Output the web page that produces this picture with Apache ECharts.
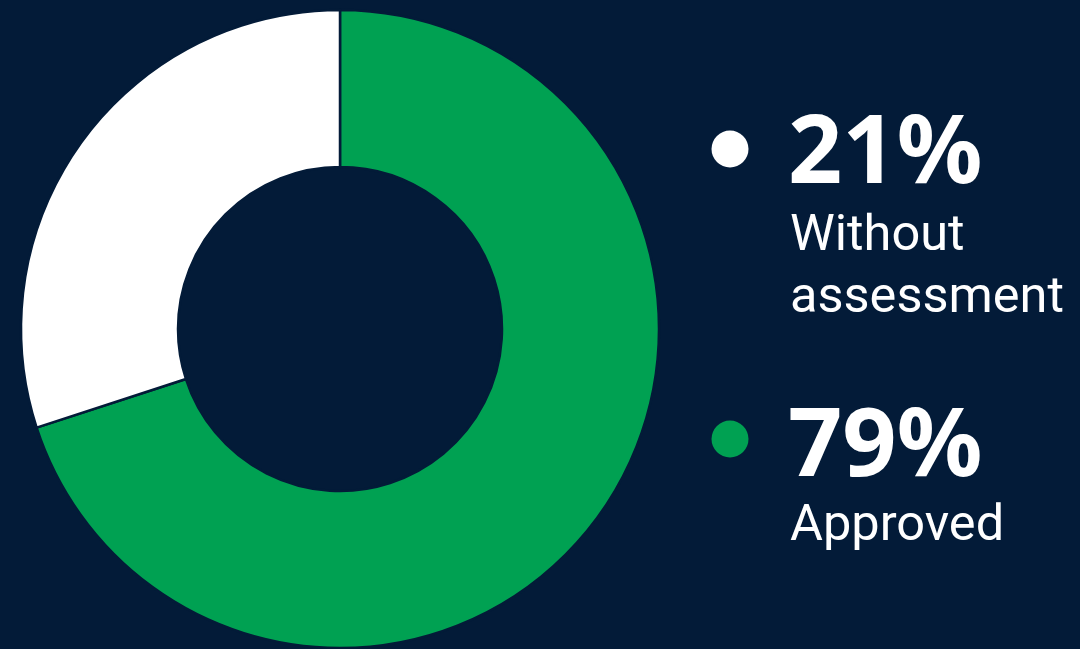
<!DOCTYPE html>
<html><head><meta charset="utf-8">
<script src="https://cdn.jsdelivr.net/npm/echarts@6/dist/echarts.min.js"></script>
<style>html,body{margin:0;padding:0;background:#031b38;}#c{width:1080px;height:649px;}</style>
</head><body><div id="c"></div>
<script>
// Data (slice sizes as drawn; displayed percentages as labelled)
const categories = ['Approved', 'Without assessment'];
const sliceValues = [70, 30];
const shownPercents = ['79%', '21%'];
const colors = ['#00a152', '#ffffff'];

const bg = '#031b38';
const chart = echarts.init(document.getElementById('c'), null, {renderer: 'canvas'});

const bigFont = '"Noto Sans", "Open Sans", sans-serif';
const smallFont = 'Roboto, sans-serif';

function legendBlock(idx, dotY, numY, lines, lineY) {
  const els = [
    {type: 'circle', shape: {cx: 730, cy: dotY, r: 18.5}, style: {fill: colors[idx]}},
    {type: 'text', x: 788, y: numY, style: {text: shownPercents[idx], fill: '#ffffff', font: 'bold 95px ' + bigFont, verticalAlign: 'middle', align: 'left'}}
  ];
  lines.forEach((t, i) => {
    els.push({type: 'text', x: 790, y: lineY[i], style: {text: t, fill: '#ffffff', font: '50.5px ' + smallFont, verticalAlign: 'middle', align: 'left'}});
  });
  return els;
}

chart.setOption({
  backgroundColor: bg,
  animation: false,
  series: [{
    type: 'pie',
    center: [340, 329],
    radius: [162, 319],
    startAngle: 90,
    clockwise: true,
    label: {show: false},
    labelLine: {show: false},
    itemStyle: {borderColor: bg, borderWidth: 2.5},
    emphasis: {disabled: true},
    data: categories.map((c, i) => ({name: c, value: sliceValues[i], itemStyle: {color: colors[i]}}))
  }],
  graphic: [].concat(
    legendBlock(1, 149, 156, ['Without', 'assessment'], [237, 299]),
    legendBlock(0, 439, 449, ['Approved'], [527])
  )
});
</script>
</body></html>
